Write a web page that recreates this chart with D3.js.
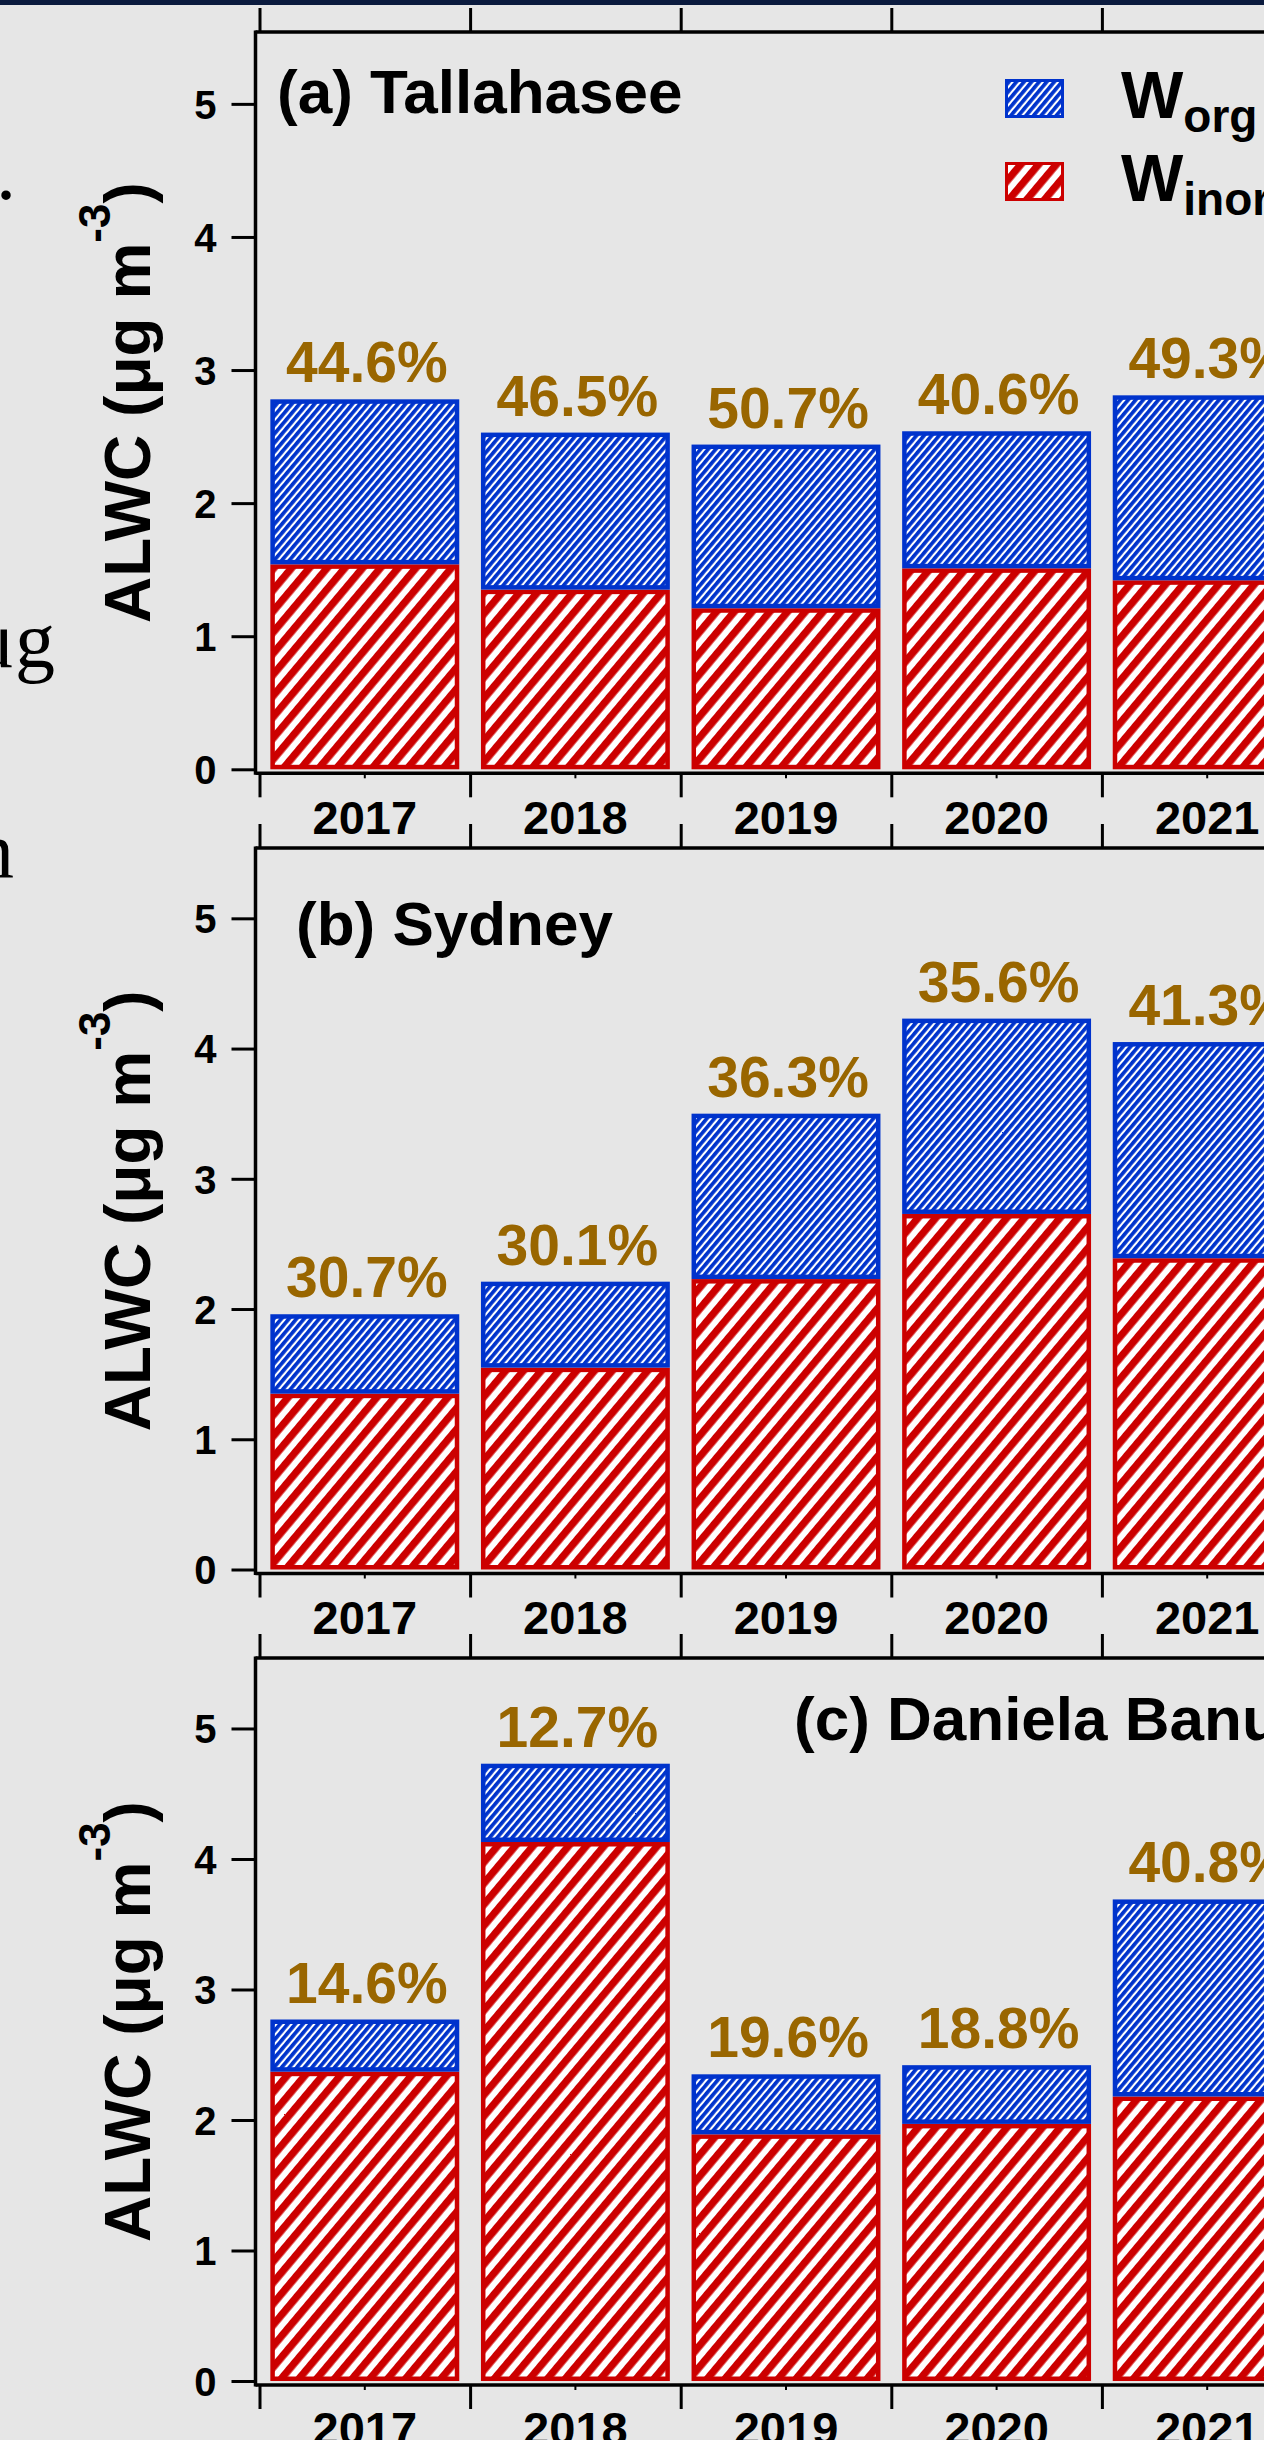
<!DOCTYPE html>
<html>
<head>
<meta charset="utf-8" />
<title>ALWC by site and year</title>
<script src="https://d3js.org/d3.v7.min.js"></script>
<style>
  body {
    margin: 0;
    background: #e6e6e6;
    overflow: hidden;
  }

  svg {
    display: block;
  }

  text {
    font-family: "Liberation Sans", Arial, sans-serif;
    font-weight: bold;
    fill: #000;
  }

  .pct {
    fill: #996600;
    font-size: 57px;
  }

  .title {
    font-size: 62px;
  }

  .ylabel {
    font-size: 64px;
  }

  .axis text {
    font-family: "Liberation Sans", Arial, sans-serif;
    font-weight: bold;
  }

  .page {
    font-family: "Liberation Serif", "Times New Roman", serif;
    font-weight: normal;
    font-size: 80px;
  }
</style>
</head>
<body>
<script>
  // values (ug m-3)
  var years = ["2017", "2018", "2019", "2020", "2021"];
  var sites = ["(a) Tallahasee", "(b) Sydney", "(c) Daniela Banu"];

  var inorgA = [1.54, 1.35, 1.21, 1.51, 1.42];
  var orgA   = [1.24, 1.18, 1.23, 1.03, 1.39];
  var pctA   = ["44.6%", "46.5%", "50.7%", "40.6%", "49.3%"];

  var inorgB = [1.35, 1.55, 2.23, 2.73, 2.39];
  var orgB   = [0.61, 0.66, 1.27, 1.50, 1.66];
  var pctB   = ["30.7%", "30.1%", "36.3%", "35.6%", "41.3%"];

  var inorgC = [2.37, 4.13, 1.89, 1.97, 2.18];
  var orgC   = [0.40, 0.60, 0.46, 0.45, 1.51];
  var pctC   = ["14.6%", "12.7%", "19.6%", "18.8%", "40.8%"];

  var yTicks = [0, 1, 2, 3, 4, 5];
  var legendKeys = ["org", "inorg"];

  var width = 1264,
      height = 2440,
      axisX = 255.5,
      blue = "#0033cc",
      red = "#cc0000",
      yMax = 5.54;

  // panel placement on the page
  var panels = [
    {name: sites[0], inorg: inorgA, org: orgA, pct: pctA, top: 32, zero: 769.3, tx: 277, ty: 113},
    {name: sites[1], inorg: inorgB, org: orgB, pct: pctB, top: 848, zero: 1569.5, tx: 296, ty: 945},
    {name: sites[2], inorg: inorgC, org: orgC, pct: pctC, top: 1658, zero: 2381, tx: 794, ty: 1740}
  ];

  var svg = d3.select("body").append("svg")
      .attr("width", width)
      .attr("height", height);

  // hatch fills: stripes at ~50 degrees, "/" direction
  var defs = svg.append("defs");
  function hatch(id, color, period, lineW) {
    var p = defs.append("pattern")
        .attr("id", id)
        .attr("patternUnits", "userSpaceOnUse")
        .attr("width", period)
        .attr("height", period)
        .attr("patternTransform", "rotate(40)");
    p.append("rect").attr("width", period).attr("height", period).attr("fill", "#fff");
    p.append("rect").attr("width", lineW).attr("height", period).attr("fill", color);
  }
  hatch("hatch-org", blue, 5.8, 3.7);
  hatch("hatch-inorg", red, 13.6, 7.4);

  var fills = {org: "url(#hatch-org)", inorg: "url(#hatch-inorg)"};
  var strokes = {org: blue, inorg: red};

  // dark strip at the very top
  svg.append("rect")
      .attr("width", width)
      .attr("height", 5)
      .attr("fill", "#0b1b3e");

  // bits of the page text behind the figure, cut by the left edge
  svg.append("text").attr("class", "page").attr("x", -4).attr("y", 199).text(".");
  svg.append("text").attr("class", "page").attr("x", 55).attr("y", 667).attr("text-anchor", "end").text("μg");
  svg.append("text").attr("class", "page").attr("x", 14).attr("y", 877).attr("text-anchor", "end").text("n");

  var x = d3.scaleBand()
      .domain(years)
      .range([259.5, 1312.5])
      .paddingInner(0.103)
      .paddingOuter(0.0515);

  // category edges for the boundary ticks
  var xEdge = d3.scaleLinear().domain([0, years.length]).range(x.range());

  var stack = d3.stack().keys(["inorg", "org"]);

  panels.forEach(function(pn) {
    var y = d3.scaleLinear().domain([0, yMax]).range([pn.zero, pn.top]);
    var base = pn.zero + 4;
    var g = svg.append("g");

    var rows = years.map(function(yr, i) {
      return {year: yr, inorg: pn.inorg[i], org: pn.org[i], pct: pn.pct[i]};
    });
    var series = stack(rows);

    // bars
    g.selectAll(".layer")
      .data(series)
      .enter().append("g")
        .attr("class", "layer")
      .each(function(s) {
        d3.select(this).selectAll("rect")
          .data(s)
          .enter().append("rect")
            .attr("x", function(d) { return x(d.data.year) + 2.25; })
            .attr("y", function(d) { return y(d[1]) + 2.25; })
            .attr("width", x.bandwidth() - 4.5)
            .attr("height", function(d) { return Math.max(0, y(d[0]) - y(d[1]) - 4.5); })
            .attr("fill", fills[s.key])
            .attr("stroke", strokes[s.key])
            .attr("stroke-width", 4.5);
      });

    // share of organic water on top of each bar
    g.selectAll(".pct")
      .data(rows)
      .enter().append("text")
        .attr("class", "pct")
        .attr("x", function(d) { return x(d.year) + x.bandwidth() / 2 + 2; })
        .attr("y", function(d) { return y(d.inorg + d.org) - 17; })
        .attr("text-anchor", "middle")
        .text(function(d) { return d.pct; });

    // frame lines
    g.append("line")
        .attr("x1", axisX).attr("x2", axisX)
        .attr("y1", pn.top - 1.5).attr("y2", base + 1.5)
        .attr("stroke", "#000").attr("stroke-width", 3.5);
    g.append("line")
        .attr("x1", axisX).attr("x2", width + 10)
        .attr("y1", pn.top).attr("y2", pn.top)
        .attr("stroke", "#000").attr("stroke-width", 3.5);
    g.append("line")
        .attr("x1", axisX).attr("x2", width + 10)
        .attr("y1", base).attr("y2", base)
        .attr("stroke", "#000").attr("stroke-width", 3.5);

    // y axis
    var yAxis = g.append("g")
        .attr("class", "axis")
        .attr("transform", "translate(" + axisX + ",0)")
        .call(d3.axisLeft(y).tickValues(yTicks).tickFormat(d3.format("d")).tickSize(24).tickPadding(15));
    yAxis.select(".domain").remove();
    yAxis.selectAll(".tick line").attr("stroke-width", 3);
    yAxis.selectAll(".tick text").style("font-size", "40px").attr("dy", "0.36em");

    // category edges, top and bottom
    var topAxis = g.append("g")
        .attr("class", "axis")
        .attr("transform", "translate(0," + pn.top + ")")
        .call(d3.axisTop(xEdge).ticks(years.length).tickSize(24).tickFormat(""));
    topAxis.select(".domain").remove();
    topAxis.selectAll(".tick line").attr("stroke-width", 3);

    var botEdge = g.append("g")
        .attr("class", "axis")
        .attr("transform", "translate(0," + base + ")")
        .call(d3.axisBottom(xEdge).ticks(years.length).tickSize(24).tickFormat(""));
    botEdge.select(".domain").remove();
    botEdge.selectAll(".tick line").attr("stroke-width", 3);

    // year labels
    var xAxis = g.append("g")
        .attr("class", "axis")
        .attr("transform", "translate(0," + base + ")")
        .call(d3.axisBottom(x).tickSize(5).tickPadding(22));
    xAxis.select(".domain").remove();
    xAxis.selectAll(".tick line").attr("stroke-width", 2);
    xAxis.selectAll(".tick text").style("font-size", "47px");

    // y axis title
    var lab = g.append("text")
        .attr("class", "ylabel")
        .attr("text-anchor", "middle")
        .attr("transform", "translate(150," + ((pn.top + base) / 2) + ")rotate(-90)");
    lab.append("tspan").text("ALWC (μg m");
    lab.append("tspan").attr("dy", -40).style("font-size", "44px").text("-3");
    lab.append("tspan").attr("dy", 40).text(")");

    // panel title
    g.append("text")
        .attr("class", "title")
        .attr("x", pn.tx)
        .attr("y", pn.ty)
        .text(pn.name);
  });

  // legend (panel a)
  var legend = svg.append("g");
  var legendY = [79, 162];
  legendKeys.forEach(function(k, i) {
    legend.append("rect")
        .attr("x", 1006.5)
        .attr("y", legendY[i] + 1.5)
        .attr("width", 56)
        .attr("height", 36)
        .attr("fill", fills[k])
        .attr("stroke", strokes[k])
        .attr("stroke-width", 3);
    var t = legend.append("text")
        .attr("x", 1121)
        .attr("y", legendY[i] + 39)
        .style("font-size", "66px")
        .text("W");
    t.append("tspan")
        .attr("dy", 14)
        .style("font-size", "46px")
        .text(k);
  });
</script>
</body>
</html>
